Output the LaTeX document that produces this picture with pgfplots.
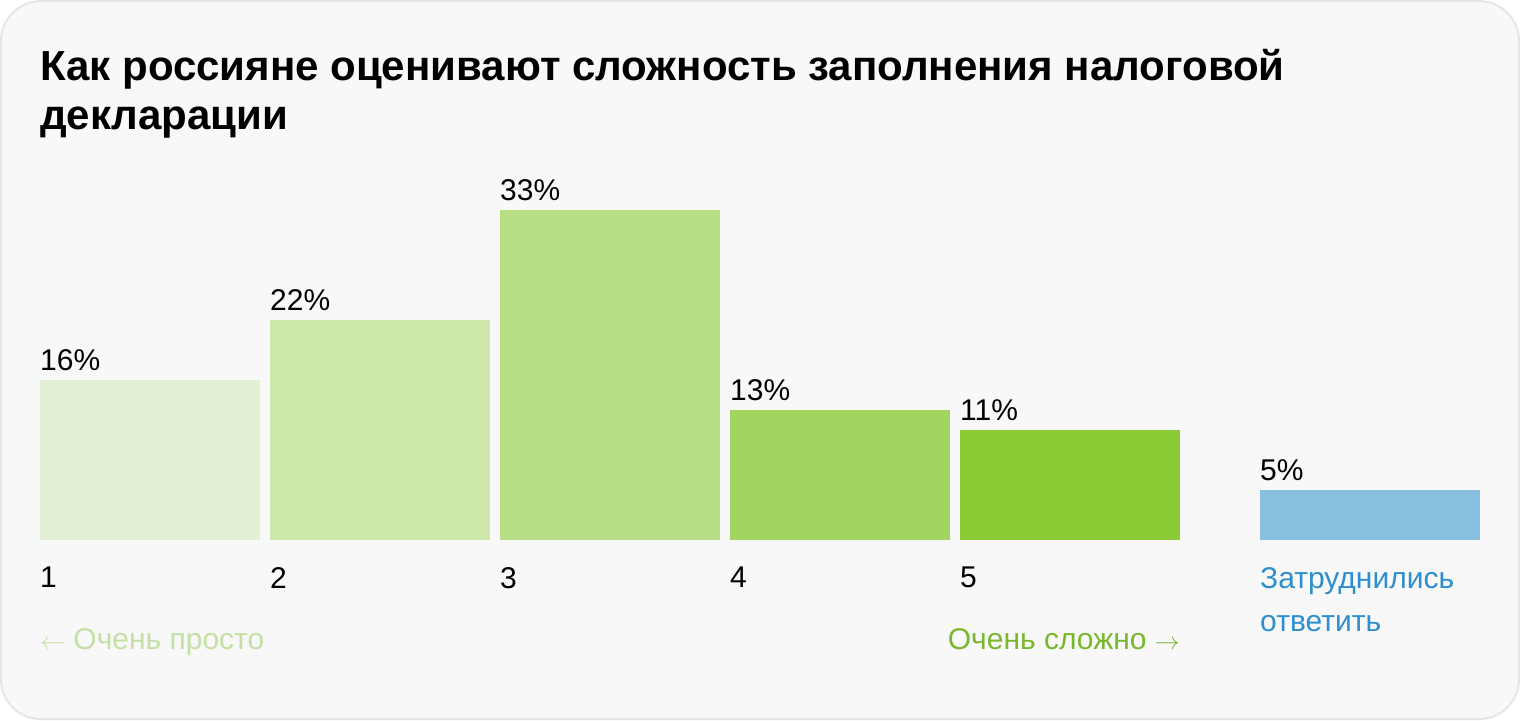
\documentclass[border=0pt]{standalone}
\usepackage{fontspec}
\setmainfont{Liberation Sans}
\usepackage{pgfplots}
\pgfplotsset{compat=1.18}
\definecolor{bgc}{HTML}{F8F8F8}
\definecolor{bordc}{HTML}{E6E6E6}
\definecolor{c1}{HTML}{E2F0D3}
\definecolor{c2}{HTML}{CEE7AA}
\definecolor{c3}{HTML}{B7DF85}
\definecolor{c4}{HTML}{A1D560}
\definecolor{c5}{HTML}{8BCB35}
\definecolor{c6}{HTML}{88C0DF}
\definecolor{tblue}{HTML}{2E8FCC}
\definecolor{dgreen}{HTML}{78B82C}
\definecolor{lgreen}{HTML}{C5E0A6}
\begin{document}
\begin{tikzpicture}
\fill[white] (0,0) rectangle (1520pt,720pt);
\draw[fill=bgc, draw=bordc, line width=2pt, rounded corners=40pt] (1pt,1pt) rectangle (1519pt,719pt);
\begin{axis}[
  at={(0,0)}, anchor=south west,
  scale only axis, width=1520pt, height=720pt,
  xmin=0, xmax=1520, ymin=-18, ymax=54,
  clip=false,
  axis line style={draw=none},
  major tick length=0pt,
  ytick=\empty,
  xtick={40,270,500,730,960,1260},
  xticklabels={1,2,3,4,5,{\textcolor{tblue}{Затруднились}\\[5pt]\textcolor{tblue}{ответить}}},
  xticklabel style={anchor=north west, align=left, inner sep=0pt, font=\fontsize{30}{38}\selectfont, yshift=153pt},
  /pgf/number format/assume math mode=true,
  bar width=220,
  every axis plot/.append style={ybar, bar shift=0pt, draw=none,
    nodes near coords={\pgfmathprintnumber{\pgfplotspointmeta}\%},
    every node near coord/.append style={anchor=base west, xshift=-110pt, yshift=10pt, inner sep=0pt, font=\fontsize{30}{36}\selectfont, text=black}},
]
\addplot[fill=c1] coordinates {(150,16)};
\addplot[fill=c2] coordinates {(380,22)};
\addplot[fill=c3] coordinates {(610,33)};
\addplot[fill=c4] coordinates {(840,13)};
\addplot[fill=c5] coordinates {(1070,11)};
\addplot[fill=c6] coordinates {(1370,5)};
\node[anchor=base west, align=left, inner sep=0pt, font=\fontsize{42}{49}\selectfont\bfseries] at (axis cs:40,41.1) {Как россияне оценивают сложность заполнения налоговой\\декларации};
\node[anchor=base west, inner sep=0pt, text=lgreen, font=\fontsize{30}{36}\selectfont] at (axis cs:40,-10.9) {$\leftarrow$ Очень просто};
\node[anchor=base east, inner sep=0pt, text=dgreen, font=\fontsize{30}{36}\selectfont] at (axis cs:1180,-10.9) {Очень сложно $\rightarrow$};
\end{axis}
\end{tikzpicture}
\end{document}
